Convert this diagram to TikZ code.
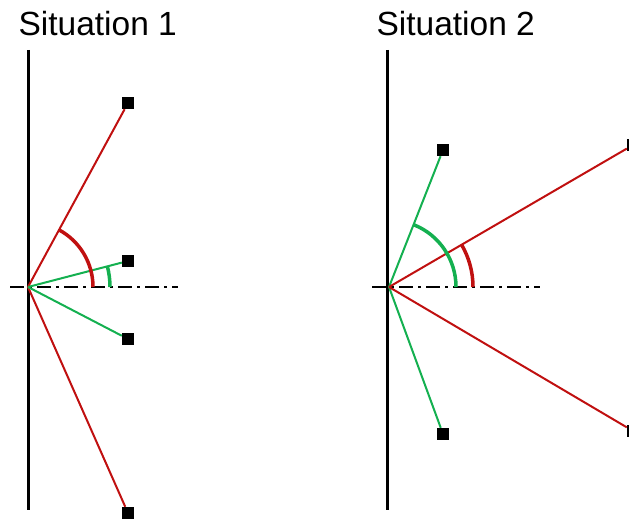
\documentclass[tikz,border=0pt]{standalone}
\usepackage{fontspec}
\setmainfont{Liberation Sans}
\usepackage{xcolor}
\definecolor{sitred}{RGB}{192,16,16}
\definecolor{sitgreen}{RGB}{20,176,80}
\usetikzlibrary{positioning, calc}

\tikzset{
  wall/.style={black, line width=3pt},
  axisline/.style={black, line width=2pt, dash pattern=on 14pt off 5pt on 3pt off 5pt},
  redray/.style={sitred, line width=2pt},
  greenray/.style={sitgreen, line width=2pt},
  redarc/.style={sitred, line width=3.5pt},
  greenarc/.style={sitgreen, line width=3.5pt},
  target/.style={fill=black, inner sep=0pt, minimum size=12pt},
  title/.style={anchor=base west, font=\fontsize{33.5}{40}\selectfont}
}

\begin{document}
\begin{tikzpicture}[x=1pt, y=1pt]
\useasboundingbox (0,0) rectangle (629,521);
\clip (0,0) rectangle (629,521);

% --- Situation 1 (left) ---
\node[title] (title1) at (15,485) {Situation 1};
\coordinate (o1) at (28,234);
\draw[wall] (28,471) -- (28,11);
\draw[axisline] (10,234) -- (178,234);

\node[target] (a1) at (128,418) {};
\node[target] (b1) at (128,260) {};
\node[target] (c1) at (128,182) {};
\node[target] (d1) at (128,8) {};

\draw[redray] (o1) -- (a1);
\draw[redray] (o1) -- (d1);
\draw[greenray] (o1) -- (b1);
\draw[greenray] (o1) -- (c1);

% angle marks
\draw[redarc] ([shift={(0:65)}]o1) arc[start angle=0, end angle=61.5, radius=65];
\draw[greenarc] ([shift={(0:82)}]o1) arc[start angle=0, end angle=14.6, radius=82];

% --- Situation 2 (right) ---
\node[title] (title2) at (373,485) {Situation 2};
\coordinate (o2) at (389,234);
\draw[wall] (387,471) -- (387,11);
\draw[axisline] (372,234) -- (540,234);

\node[target] (a2) at (443,371) {};
\node[target] (b2) at (443,87) {};
\node[target] (c2) at (633,376) {};
\node[target] (d2) at (633,90) {};

\draw[greenray] (o2) -- (a2);
\draw[greenray] (o2) -- (b2);
\draw[redray] (o2) -- (c2);
\draw[redray] (o2) -- (d2);

% angle marks
\draw[greenarc] ([shift={(0:67)}]o2) arc[start angle=0, end angle=68.1, radius=67];
\draw[redarc] ([shift={(0:84)}]o2) arc[start angle=0, end angle=30.3, radius=84];

\end{tikzpicture}
\end{document}
